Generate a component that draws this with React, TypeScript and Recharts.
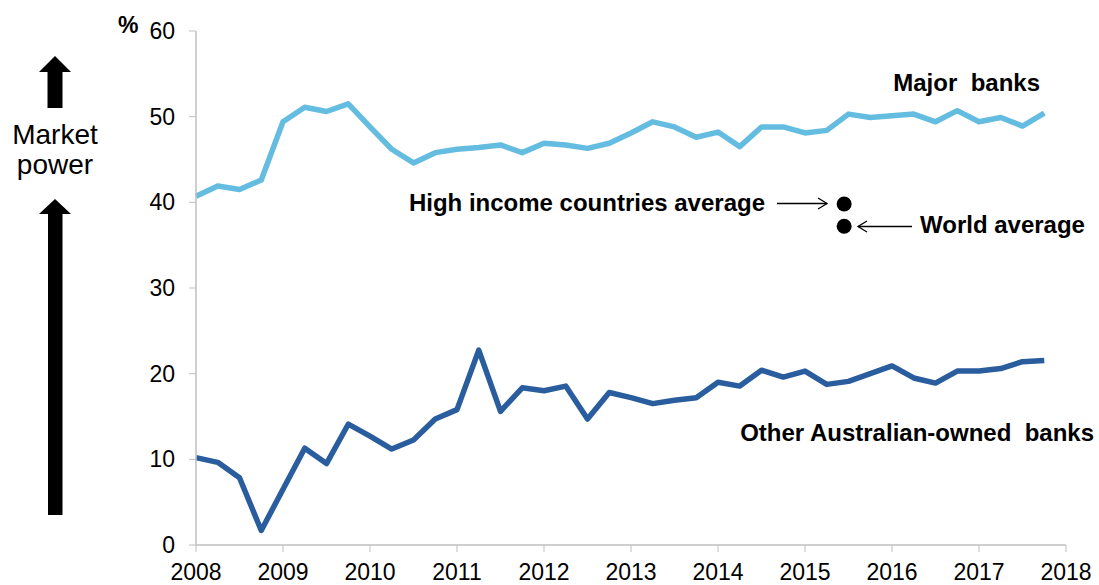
import React from 'react';
import { LineChart, Line, XAxis, YAxis, ReferenceDot, Customized } from 'recharts';

const quarters: number[] = [
  2008, 2008.25, 2008.5, 2008.75, 2009, 2009.25, 2009.5, 2009.75,
  2010, 2010.25, 2010.5, 2010.75, 2011, 2011.25, 2011.5, 2011.75,
  2012, 2012.25, 2012.5, 2012.75, 2013, 2013.25, 2013.5, 2013.75,
  2014, 2014.25, 2014.5, 2014.75, 2015, 2015.25, 2015.5, 2015.75,
  2016, 2016.25, 2016.5, 2016.75, 2017, 2017.25, 2017.5, 2017.75,
];

const majorBanks: number[] = [
  40.7, 41.9, 41.5, 42.6, 49.4, 51.1, 50.6, 51.5,
  48.8, 46.2, 44.6, 45.8, 46.2, 46.4, 46.7, 45.8,
  46.9, 46.7, 46.3, 46.9, 48.1, 49.4, 48.8, 47.6,
  48.2, 46.5, 48.8, 48.8, 48.1, 48.4, 50.3, 49.9,
  50.1, 50.3, 49.4, 50.7, 49.4, 49.9, 48.9, 50.4,
];

const otherBanks: number[] = [
  10.2, 9.65, 7.85, 1.7, 6.5, 11.3, 9.5, 14.1,
  12.7, 11.2, 12.25, 14.7, 15.8, 22.75, 15.6, 18.35,
  18.0, 18.55, 14.7, 17.8, 17.2, 16.5, 16.9, 17.2,
  19.0, 18.55, 20.4, 19.6, 20.3, 18.75, 19.1, 20.0,
  20.9, 19.5, 18.9, 20.3, 20.3, 20.6, 21.4, 21.55,
];

const xTicks: number[] = [2008, 2009, 2010, 2011, 2012, 2013, 2014, 2015, 2016, 2017, 2018];
const yTicks: number[] = [0, 10, 20, 30, 40, 50, 60];

const averagesDate = 2015.45;
const highIncomeAverage = 39.8;
const worldAverage = 37.2;

const data = quarters.map((q, i) => ({ q, major: majorBanks[i], other: otherBanks[i] }));

const FONT = '"Liberation Sans", Arial, sans-serif';
const AXIS_COLOR = '#bfbfbf';

const Overlay = () => (
  <g fontFamily={FONT}>
    {/* % unit */}
    <text x={118} y={33} fontSize={23} fontWeight="bold" fill="#000">%</text>
    {/* Market power */}
    <text x={55} y={144} fontSize={28} textAnchor="middle" fill="#000">Market</text>
    <text x={55} y={174} fontSize={28} textAnchor="middle" fill="#000">power</text>
    {/* small up arrow */}
    <polygon points="55,56 71,72 62.5,72 62.5,108 47.5,108 47.5,72 39,72" fill="#000" />
    {/* big up arrow */}
    <polygon points="55,199 71,214 62.5,214 62.5,515 48,515 48,214 39,214" fill="#000" />
    {/* series labels */}
    <text x={1040} y={91} fontSize={24} fontWeight="bold" textAnchor="end" fill="#000" style={{ whiteSpace: 'pre' }}>Major  banks</text>
    <text x={1094} y={441} fontSize={24} fontWeight="bold" textAnchor="end" fill="#000" style={{ whiteSpace: 'pre' }}>Other Australian-owned  banks</text>
    {/* averages */}
    <text x={765} y={211} fontSize={24} fontWeight="bold" textAnchor="end" fill="#000">High income countries average</text>
    <text x={920} y={233} fontSize={24} fontWeight="bold" textAnchor="start" fill="#000">World average</text>
    <g stroke="#000" strokeWidth={1.3} fill="none">
      <line x1={777} y1={203.5} x2={827} y2={203.5} />
      <polyline points="818,198 827,203.5 818,209" />
      <line x1={858} y1={226.5} x2={912} y2={226.5} />
      <polyline points="867,221 858,226.5 867,232" />
    </g>
  </g>
);

export default function App() {
  return (
    <div style={{ position: 'absolute', left: 0, top: 0, width: 1099, height: 585, background: '#fff' }}>
      <LineChart width={1099} height={585} data={data} margin={{ top: 31, right: 33, bottom: 0, left: 0 }}>
        <XAxis
          dataKey="q"
          type="number"
          domain={[2008, 2018]}
          ticks={xTicks}
          interval={0}
          height={40}
          stroke={AXIS_COLOR}
          tickSize={7}
          tickMargin={12}
          tick={{ fill: '#000', fontSize: 23, fontFamily: FONT }}
          tickLine={{ stroke: AXIS_COLOR }}
          axisLine={{ stroke: AXIS_COLOR, strokeWidth: 1.5 }}
        />
        <YAxis
          type="number"
          domain={[0, 60]}
          ticks={yTicks}
          interval={0}
          width={196}
          stroke={AXIS_COLOR}
          tickSize={7}
          tickMargin={14}
          tick={{ fill: '#000', fontSize: 23, fontFamily: FONT }}
          tickLine={{ stroke: AXIS_COLOR }}
          axisLine={{ stroke: AXIS_COLOR, strokeWidth: 1.5 }}
        />
        <Line
          dataKey="major"
          stroke="#64bde0"
          strokeWidth={5.5}
          dot={false}
          strokeLinejoin="round"
          isAnimationActive={false}
        />
        <Line
          dataKey="other"
          stroke="#2a5d9e"
          strokeWidth={5.5}
          dot={false}
          strokeLinejoin="round"
          isAnimationActive={false}
        />
        <ReferenceDot x={averagesDate} y={highIncomeAverage} r={7.5} fill="#000" stroke="none" />
        <ReferenceDot x={averagesDate} y={worldAverage} r={7.5} fill="#000" stroke="none" />
        <Customized component={<Overlay />} />
      </LineChart>
    </div>
  );
}
